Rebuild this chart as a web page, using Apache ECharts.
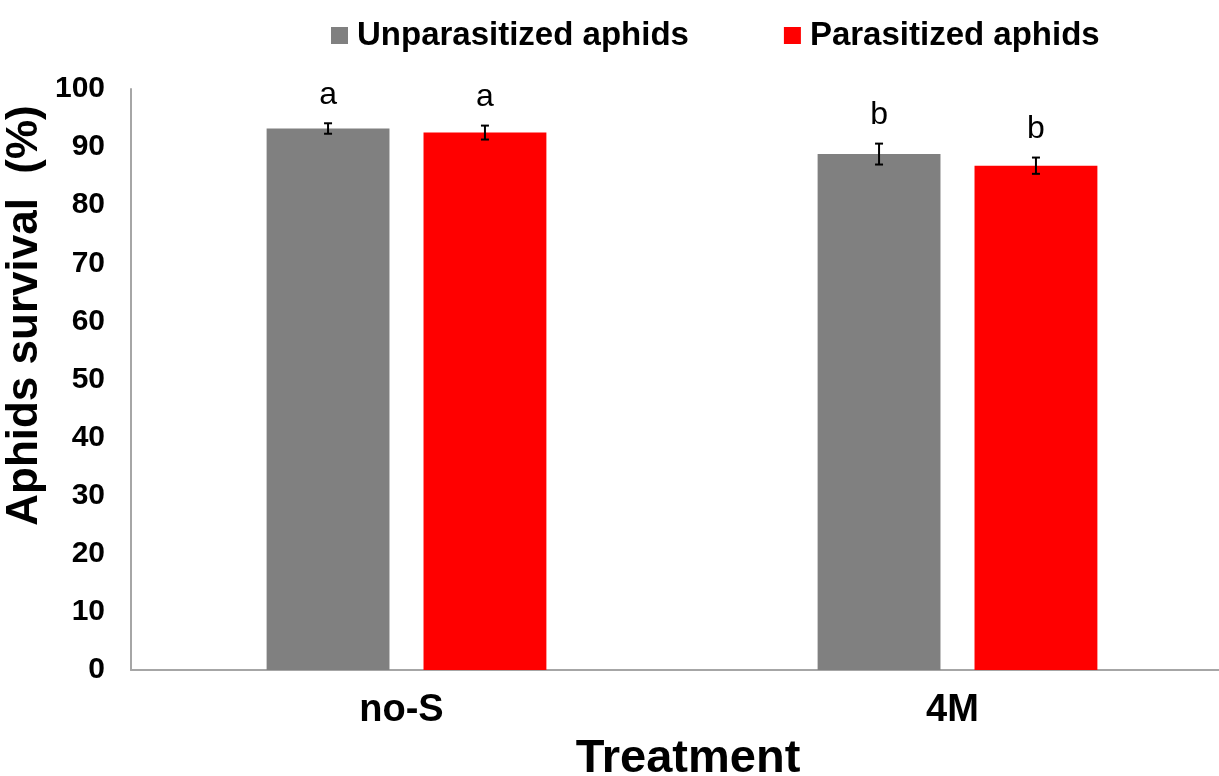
<!DOCTYPE html>
<html>
<head>
<meta charset="utf-8">
<script src="https://cdn.jsdelivr.net/npm/echarts@6/dist/echarts.min.js"></script>
<style>html,body{margin:0;padding:0;background:#fff;}#c{width:1219px;height:776px;}</style>
</head>
<body>
<div id="c"></div>
<script>
var categories = ['no-S', '4M'];
var seriesNames = ['Unparasitized aphids', 'Parasitized aphids'];
var unparasitized = [93.2, 88.8];
var unparasitizedErr = [0.9, 1.8];
var unparasitizedLetters = ['a', 'b'];
var parasitized = [92.5, 86.8];
var parasitizedErr = [1.2, 1.4];
var parasitizedLetters = ['a', 'b'];
var yTicks = [0, 10, 20, 30, 40, 50, 60, 70, 80, 90, 100];

var FONT = 'Liberation Sans, Arial, sans-serif';
var BAR_W = 0.223, BAR_GAP = 0.277;

function errSeries(name, vals, errs, letters, side) {
  var data = vals.map(function (v, i) { return [i, v, errs[i], letters[i]]; });
  return {
    type: 'custom', name: name + ' err', data: data, z: 10, silent: true,
    renderItem: function (params, api) {
      var band = api.size([1, 0])[0];
      var w = band * BAR_W;
      var off = side * (w * (1 + BAR_GAP)) / 2;
      var x = api.coord([api.value(0), 0])[0] + off;
      var hi = api.coord([0, api.value(1) + api.value(2)])[1];
      var lo = api.coord([0, api.value(1) - api.value(2)])[1];
      var cap = 4;
      var st = { stroke: '#000', lineWidth: 2 };
      return {
        type: 'group', children: [
          { type: 'line', shape: { x1: x, y1: hi, x2: x, y2: lo }, style: st },
          { type: 'line', shape: { x1: x - cap, y1: hi, x2: x + cap, y2: hi }, style: st },
          { type: 'line', shape: { x1: x - cap, y1: lo, x2: x + cap, y2: lo }, style: st },
          { type: 'text', style: { x: x, y: hi - 12, text: api.value(3), textAlign: 'center', textVerticalAlign: 'bottom', font: '32px ' + FONT, fill: '#000' } }
        ]
      };
    }
  };
}

var chart = echarts.init(document.getElementById('c'), null, { renderer: 'canvas' });
chart.setOption({
  animation: false,
  backgroundColor: '#fff',
  legend: {
    top: 14, left: 326, itemWidth: 17, itemHeight: 17, itemGap: 95, icon: 'rect',
    data: seriesNames,
    textStyle: { fontFamily: FONT, fontWeight: 'bold', fontSize: 33, color: '#000', padding: [0, 0, 0, 4] }
  },
  grid: { left: 131, width: 1102, top: 89, bottom: 106, containLabel: false, outerBoundsMode: 'none' },
  xAxis: {
    type: 'category', data: categories,
    axisLine: { lineStyle: { color: '#a6a6a6', width: 2 } },
    axisTick: { show: false },
    axisLabel: { margin: 22, fontFamily: FONT, fontWeight: 'bold', fontSize: 38, color: '#000', padding: [0, 10, 0, 0] },
    name: 'Treatment', nameLocation: 'middle', nameGap: 66, nameMoveOverlap: false,
    nameTextStyle: { fontFamily: FONT, fontWeight: 'bold', fontSize: 47, color: '#000', padding: [0, 0, 0, 12] }
  },
  yAxis: {
    type: 'value', min: 0, max: 100, interval: 10,
    axisLine: { show: true, lineStyle: { color: '#a6a6a6', width: 2 } },
    axisTick: { show: false },
    splitLine: { show: false },
    axisLabel: {
      margin: 26, fontFamily: FONT, fontWeight: 'bold', fontSize: 30, color: '#000',
      formatter: function (v) { return yTicks.indexOf(v) >= 0 ? String(v) : ''; }
    },
    name: 'Aphids survival  (%)', nameLocation: 'middle', nameGap: 84, nameRotate: 90, nameMoveOverlap: false,
    nameTextStyle: { fontFamily: FONT, fontWeight: 'bold', fontSize: 44, color: '#000', padding: [0, 0, 0, 128] }
  },
  series: [
    { type: 'bar', name: seriesNames[0], data: unparasitized, barWidth: (BAR_W * 100) + '%', barGap: (BAR_GAP * 100) + '%', itemStyle: { color: '#808080' } },
    { type: 'bar', name: seriesNames[1], data: parasitized, barWidth: (BAR_W * 100) + '%', barGap: (BAR_GAP * 100) + '%', itemStyle: { color: '#ff0000' } },
    errSeries(seriesNames[0], unparasitized, unparasitizedErr, unparasitizedLetters, -1),
    errSeries(seriesNames[1], parasitized, parasitizedErr, parasitizedLetters, 1)
  ]
});
</script>
</body>
</html>
